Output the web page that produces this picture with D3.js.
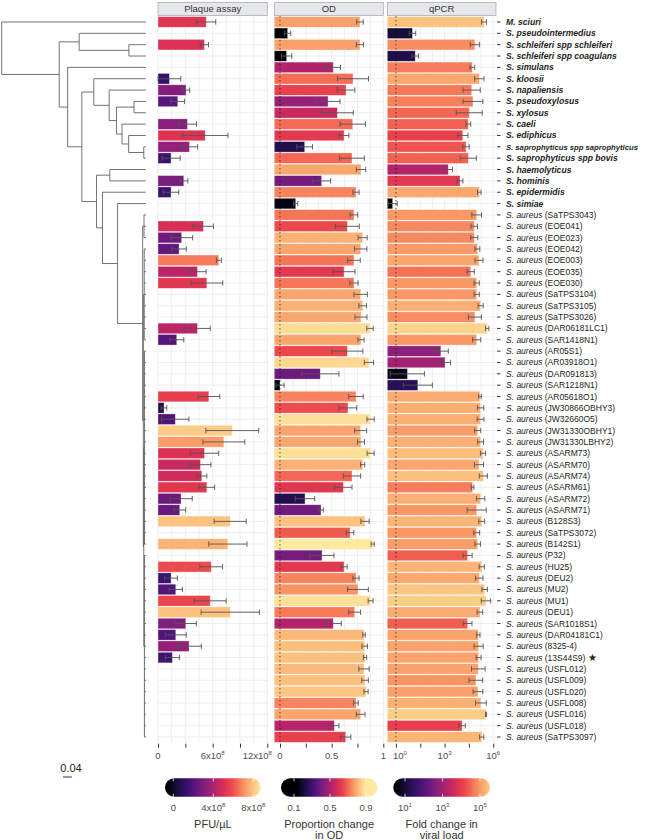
<!DOCTYPE html>
<html><head><meta charset="utf-8">
<script src="https://cdn.jsdelivr.net/npm/d3@7"></script>
<style>
body{margin:0;background:#fff}
svg{display:block}
text{font-family:"Liberation Sans",Arial,Helvetica,sans-serif}
</style></head>
<body><svg id="c" width="652" height="840"></svg>
<script>
// ---------------- DATA ----------------
const speciesNames = ["M. sciuri","S. pseudointermedius","S. schleiferi spp schleiferi","S. schleiferi spp coagulans","S. simulans","S. kloosii","S. napaliensis","S. pseudoxylosus","S. xylosus","S. caeli","S. ediphicus","S. saprophyticus spp saprophyticus","S. saprophyticus spp bovis","S. haemolyticus","S. hominis","S. epidermidis","S. simiae"];
const aureusStrains = ["SaTPS3043","EOE041","EOE023","EOE042","EOE003","EOE035","EOE030","SaTPS3104","SaTPS3105","SaTPS3026","DAR06181LC1","SAR1418N1","AR05S1","AR03918O1","DAR091813","SAR1218N1","AR05618O1","JW30866OBHY3","JW32660O5","JW31330OBHY1","JW31330LBHY2","ASARM73","ASARM70","ASARM74","ASARM61","ASARM72","ASARM71","B128S3","SaTPS3072","B142S1","P32","HU25","DEU2","MU2","MU1","DEU1","SAR1018S1","DAR04181C1","8325-4","13S44S9","USFL012","USFL009","USFL020","USFL008","USFL016","USFL018","SaTPS3097"];
const starredStrain = "13S44S9";

// Plaque assay, PFU/uL in units of 1e8 (null = not tested)
const plaqueMean = [5.29,null,5.1,null,null,1.25,3.08,2.17,null,3.23,5.18,3.45,1.43,null,2.83,1.43,null,
  null,4.99,2.6,2.31,6.68,4.33,5.36,null,null,null,4.33,2.06,null,null,null,null,
  5.58,0.66,1.9,8.15,7.23,5.1,4.66,4.81,5.36,2.53,2.39,7.93,null,7.67,null,5.84,1.43,
  1.95,5.73,7.93,3.05,1.95,3.41,1.58,null,null,null,null,null,null,null];
const plaqueSd = [1.05,null,0.45,null,null,1.25,0.4,0.75,null,1.0,2.5,0.9,1.0,null,0.45,0.85,null,
  null,1.1,1.2,0.8,0.27,0.95,1.75,null,null,null,1.4,0.77,null,null,null,null,
  1.2,0.3,1.5,2.9,2.3,1.56,1.15,0.55,0.86,1.23,0.65,1.76,null,2.1,null,1.25,0.7,
  0.73,1.75,3.2,1.15,1.15,1.35,0.77,null,null,null,null,null,null,null];

// Proportion change in OD
const odMean = [0.774,0.074,0.774,0.064,0.516,0.707,0.639,0.465,0.555,0.704,0.62,0.239,0.697,0.784,0.403,0.736,0.152,
  0.716,0.652,0.8,0.781,0.716,0.62,0.716,0.781,0.8,0.784,0.871,0.784,0.652,0.861,0.39,0.0,
  0.736,0.658,0.877,0.781,0.784,0.877,0.8,0.697,0.613,0.242,0.397,0.823,0.678,0.897,0.407,0.62,0.736,
  0.755,0.877,0.723,0.516,0.813,0.82,0.823,0.813,0.823,0.833,0.736,0.781,0.526,0.636];
const odSd = [0.032,0.03,0.035,0.05,0.07,0.15,0.085,0.116,0.155,0.123,0.047,0.076,0.12,0.045,0.087,0.03,0.02,
  0.037,0.116,0.044,0.06,0.061,0.106,0.04,0.065,0.037,0.058,0.031,0.03,0.15,0.045,0.18,0.04,
  0.07,0.085,0.035,0.058,0.034,0.034,0.02,0.084,0.084,0.094,0.022,0.04,0.037,0.015,0.116,0.03,0.03,
  0.1,0.024,0.057,0.077,0.012,0.027,0.016,0.05,0.032,0.02,0.022,0.042,0.045,0.05];

// qPCR fold change in viral load, log10
const qpcrLog = [5.43,1.02,4.87,1.19,4.71,5.14,4.67,4.75,4.52,4.46,4.12,4.32,4.46,3.23,3.95,5.14,-0.2,
  4.98,4.83,4.83,5.02,5.12,4.61,4.98,4.98,5.22,4.87,5.63,4.98,2.77,3.03,0.71,1.35,
  5.18,5.22,5.22,5.04,5.22,5.37,5.12,5.39,4.73,5.22,4.98,5.29,4.98,5.04,4.42,5.29,5.14,
  5.47,5.55,5.18,4.42,5.08,5.1,5.1,5.08,4.93,5.06,5.24,5.55,4.08,5.29];
const qpcrSd = [0.15,0.2,0.29,0.2,0.15,0.29,0.53,0.61,0.8,0.15,0.32,0.2,0.5,0.26,0.18,0.11,0.28,
  0.3,0.2,0.22,0.15,0.25,0.22,0.16,0.16,0.16,0.4,0.1,0.25,0.46,0.34,1.05,0.9,
  0.08,0.2,0.21,0.19,0.18,0.16,0.28,0.25,0.08,0.26,0.59,0.18,0.18,0.17,0.28,0.16,0.23,
  0.17,0.29,0.17,0.27,0.1,0.28,0.15,0.42,0.42,0.3,0.33,0.03,0.2,0.13];

// Phylogeny (leaf rN = row N), branch lengths in substitutions/site
const treeNewick = "(r1:0.650,((r2:0.300,(r3:0.077,r4:0.077):0.224):0.090,(r5:0.353,((r6:0.234,(r7:0.165,((r8:0.053,r9:0.053):0.079,(r10:0.107,(r11:0.077,(r12:0.009,r13:0.009):0.068):0.030):0.025):0.033):0.069):0.054,((r14:0.162,r15:0.162):0.060,(r16:0.195,(r17:0.127,((r18:0.009,r19:0.009,r20:0.009):0.006,((r21:0.008,r22:0.008,r23:0.008,r24:0.008,r25:0.008,r26:0.008,r27:0.008,r28:0.008,r29:0.008):0.004,((r30:0.007,r31:0.007,r32:0.007,r33:0.007,r34:0.007,r35:0.007,r36:0.007,r37:0.007,r38:0.007,r39:0.007,r40:0.007,r41:0.007,r42:0.007,r43:0.007,r44:0.007,r45:0.007,r46:0.007,r47:0.007):0.003,(r48:0.007,r49:0.007,r50:0.007,r51:0.007,r52:0.007,r53:0.007,r54:0.007,r55:0.007,r56:0.007,r57:0.007,r58:0.007,r59:0.007,r60:0.007,r61:0.007,r62:0.007,r63:0.007,r64:0.007):0.003):0.002):0.003):0.113):0.068):0.027):0.066):0.064):0.038):0.259);";
const treeScaleBar = 0.04;

// colour palette stops (dark -> light)
const paletteStops = ["#000004","#160d38","#35106a","#5c167e","#861f7c","#b0226d","#d92f55","#e9414c","#f46c55","#f99a66","#fcc37f","#fdeaa0"];
const paletteAt = [0,0.10,0.20,0.30,0.40,0.50,0.60,0.67,0.75,0.83,0.91,1.0];

// axis ticks / labels
const plaqueTicks = [0,3,6,9,12];
const plaqueTickLabels = {0:["0",""],6:["6x10","8"],12:["12x10","8"]};
const odTicks = [0,0.25,0.5,0.75,1];
const odTickLabels = {0:["0",""],0.5:["0.5",""],1:["1",""]};
const qpcrTicks = [0,1.5,3,4.5,6];
const qpcrTickLabels = {0:["10","0"],3:["10","3"],6:["10","6"]};
const panelTitles = ["Plaque assay","OD","qPCR"];

const legPlaqueTicks = [[0,"0",""],[4,"4x10","8"],[8,"8x10","8"]];
const legOdTicks = [[0.1,"0.1",""],[0.5,"0.5",""],[0.9,"0.9",""]];
const legQpcrTicks = [[1,"10","1"],[3,"10","3"],[5,"10","5"]];
const legTitles = [["PFU/µL"],["Proportion change","in OD"],["Fold change in","viral load"]];

// ---------------- LAYOUT ----------------
const n = speciesNames.length + aureusStrains.length;
const svg = d3.select("#c");
const y = d3.scaleBand().domain(d3.range(n)).range([16.3, 742.7]).paddingInner(0.07).paddingOuter(0.035);
const yc = i => y(i) + y.bandwidth()/2;

const pal = d3.scaleLinear().domain(paletteAt).range(paletteStops).interpolate(d3.interpolateRgb).clamp(true);
const seq = dom => { const s = d3.scaleLinear().domain(dom).range([0,1]).clamp(true); return v => pal(s(v)); };

const panels = [
  {x:d3.scaleLinear().domain([0,12]).range([158,267.3]), mean:plaqueMean, sd:plaqueSd,
   grid:d3.range(0,12.01,1.5), ticks:plaqueTicks, labels:plaqueTickLabels, dotted:null,
   color:seq([-0.64,8.8])},
  {x:d3.scaleLinear().domain([-0.055,1]).range([274.3,383.3]), mean:odMean, sd:odSd,
   grid:d3.range(0,1.001,0.125), ticks:odTicks, labels:odTickLabels, dotted:0,
   color:seq([0.13,0.895])},
  {x:d3.scaleLinear().domain([-0.53,6.17]).range([387.3,496]), mean:qpcrLog, sd:qpcrSd,
   grid:d3.range(0,6.01,0.75), ticks:qpcrTicks, labels:qpcrTickLabels, dotted:0,
   color:seq([0.48,5.92])}
];

const plotTop = 16.3, plotBottom = 742.7;

panels.forEach((p,pi)=>{
  const g = svg.append("g");
  const [x0,x1] = p.x.range();
  g.append("rect").attr("x",x0).attr("y",2.5).attr("width",x1-x0).attr("height",13)
    .attr("fill","#e6e7ec").attr("stroke","#a3a3a3").attr("stroke-width",0.7);
  g.append("text").attr("x",(x0+x1)/2).attr("y",12.4).attr("text-anchor","middle")
    .attr("font-size",9.5).attr("fill","#333").text(panelTitles[pi]);
  g.selectAll(".vg").data(p.grid).join("line")
    .attr("x1",d=>p.x(d)).attr("x2",d=>p.x(d)).attr("y1",plotTop).attr("y2",plotBottom)
    .attr("stroke","#e6e6e6").attr("stroke-width",0.7);
  g.selectAll(".hg").data(d3.range(n)).join("line")
    .attr("x1",x0).attr("x2",x1).attr("y1",d=>yc(d)).attr("y2",d=>yc(d))
    .attr("stroke","#e6e6e6").attr("stroke-width",0.7);
  const idx = d3.range(n).filter(i=>p.mean[i]!=null);
  g.selectAll(".bar").data(idx).join("rect")
    .attr("x",x0).attr("y",i=>y(i)).attr("height",y.bandwidth())
    .attr("width",i=>Math.max(0,p.x(p.mean[i])-x0))
    .attr("fill",i=>p.color(p.mean[i]))
    .attr("stroke","#ffffff").attr("stroke-opacity",0.45).attr("stroke-width",0.7);
  if(p.dotted!=null){
    g.append("line").attr("x1",p.x(p.dotted)).attr("x2",p.x(p.dotted)).attr("y1",plotTop).attr("y2",plotBottom)
      .attr("stroke","#111").attr("stroke-width",1).attr("stroke-dasharray","1,3");
  }
  const eb = g.selectAll(".eb").data(idx).join("g").attr("stroke","#555").attr("stroke-width",0.9).attr("fill","none");
  const lo = i=>Math.max(x0,p.x(p.mean[i]-p.sd[i])), hi = i=>Math.min(x1,p.x(p.mean[i]+p.sd[i]));
  eb.append("line").attr("x1",lo).attr("x2",hi).attr("y1",yc).attr("y2",yc);
  eb.append("line").attr("x1",lo).attr("x2",lo).attr("y1",i=>yc(i)-2.7).attr("y2",i=>yc(i)+2.7);
  eb.append("line").attr("x1",hi).attr("x2",hi).attr("y1",i=>yc(i)-2.7).attr("y2",i=>yc(i)+2.7);
  const ax = g.append("g").attr("transform",`translate(0,${plotBottom+1})`)
    .call(d3.axisBottom(p.x).tickValues(p.ticks).tickSize(4).tickFormat(""));
  ax.select(".domain").remove();
  ax.selectAll(".tick line").attr("stroke","#333").attr("stroke-width",1);
  const tl = g.selectAll(".tl").data(p.ticks.filter(t=>p.labels[t])).join("text")
    .attr("x",d=>p.x(d) + (pi===0&&d===12?-10:0) + (pi===2&&d===0?4:0)).attr("y",758.8)
    .attr("text-anchor","middle").attr("font-size",9.5).attr("fill","#4d4d4d");
  tl.append("tspan").text(d=>p.labels[d][0]);
  tl.append("tspan").attr("dy",-3.8).attr("font-size",6).text(d=>p.labels[d][1]);
});

// ---------------- ROW LABELS ----------------
const lab = svg.append("g");
lab.selectAll("line").data(d3.range(n)).join("line")
  .attr("x1",497).attr("x2",500.5).attr("y1",yc).attr("y2",yc).attr("stroke","#333").attr("stroke-width",1);
const lt = lab.selectAll("text").data(d3.range(n)).join("text")
  .attr("x",506).attr("y",i=>yc(i)+3).attr("font-size",8.5).attr("fill","#222");
lt.each(function(i){
  const t = d3.select(this);
  if(i < speciesNames.length){
    t.attr("font-size",8.6);
    t.append("tspan").attr("font-style","italic").attr("font-weight","bold").text(speciesNames[i]);
  } else {
    const s = aureusStrains[i-speciesNames.length];
    t.append("tspan").attr("font-style","italic").text("S. aureus");
    t.append("tspan").text(" ("+s+")");
    if(s===starredStrain) t.append("tspan").attr("font-size",9.5).text(" ★");
  }
});
// keep the longest label inside the picture by shrinking its font
lt.each(function(){
  const w = this.getBBox().width;
  const maxW = 638 - 506;
  if(w > maxW){
    const fs = +d3.select(this).attr("font-size");
    d3.select(this).attr("font-size", (fs*maxW/w).toFixed(2));
  }
});

// ---------------- TREE ----------------
function parseNewick(s){
  let i=0;
  function node(){
    const nd={children:[]};
    if(s[i]==='('){
      i++; nd.children.push(node());
      while(s[i]===','){ i++; nd.children.push(node()); }
      i++;
    }
    let name=''; while(i<s.length && !':,);'.includes(s[i])) name+=s[i++];
    nd.name=name; nd.length=0;
    if(s[i]===':'){ i++; let l=''; while(i<s.length && !',);'.includes(s[i])) l+=s[i++]; nd.length=+l; }
    if(!nd.children.length) delete nd.children;
    return nd;
  }
  return node();
}
const root = d3.hierarchy(parseNewick(treeNewick));
root.eachBefore(d=>{ d.dist = (d.parent? d.parent.dist : 0) + d.data.length; });
const maxDist = d3.max(root.leaves(), d=>d.dist);
const tx = d3.scaleLinear().domain([0,maxDist]).range([1.7,146]);
root.eachAfter(d=>{
  if(!d.children) d.yy = yc(+d.data.name.slice(1)-1);
  else d.yy = d3.mean(d.children, c=>c.yy);
});
const tg = svg.append("g").attr("stroke","#5a5a5a").attr("stroke-width",0.85).attr("fill","none");
tg.selectAll(".h").data(root.descendants().filter(d=>d.parent)).join("line")
  .attr("x1",d=>tx(d.parent.dist)).attr("x2",d=>tx(d.dist)).attr("y1",d=>d.yy).attr("y2",d=>d.yy);
tg.selectAll(".v").data(root.descendants().filter(d=>d.children)).join("line")
  .attr("x1",d=>tx(d.dist)).attr("x2",d=>tx(d.dist))
  .attr("y1",d=>d3.min(d.children,c=>c.yy)).attr("y2",d=>d3.max(d.children,c=>c.yy));
const sbx = 63;
svg.append("line").attr("x1",sbx).attr("x2",sbx + tx(treeScaleBar)-tx(0)).attr("y1",777).attr("y2",777)
  .attr("stroke","#333").attr("stroke-width",1);
svg.append("text").attr("x",71).attr("y",771.5).attr("text-anchor","middle")
  .attr("font-size",11).attr("fill","#222").text(String(treeScaleBar));

// ---------------- LEGENDS ----------------
const legends = [
  {cx:[165,260.7], pos:d3.scaleLinear().domain([0,8]).range([173.3,253.3]), color:panels[0].color, ticks:legPlaqueTicks, title:legTitles[0]},
  {cx:[281,377.3], pos:d3.scaleLinear().domain([0.1,0.9]).range([294,366]), color:panels[1].color, ticks:legOdTicks, title:legTitles[1]},
  {cx:[393.3,490], pos:d3.scaleLinear().domain([1,5]).range([405,480]), color:panels[2].color, ticks:legQpcrTicks, title:legTitles[2]}
];
const defs = svg.append("defs");
legends.forEach((L,li)=>{
  const [a,b] = L.cx, top=778.3, h=18.5;
  const gid = "lg"+li;
  const grad = defs.append("linearGradient").attr("id",gid).attr("x1","0%").attr("x2","100%");
  grad.selectAll("stop").data(d3.range(0,1.0001,0.04)).join("stop")
    .attr("offset",s=>(s*100)+"%")
    .attr("stop-color",s=>L.color(L.pos.invert(a+s*(b-a))));
  const g = svg.append("g");
  g.append("rect").attr("x",a).attr("y",top).attr("width",b-a).attr("height",h).attr("rx",h/2).attr("ry",h/2)
    .attr("fill",`url(#${gid})`);
  g.selectAll(".nt").data(L.ticks).join("g").each(function(t){
    const xx=L.pos(t[0]);
    d3.select(this).append("line").attr("x1",xx).attr("x2",xx).attr("y1",top).attr("y2",top+3).attr("stroke","#fff").attr("stroke-width",0.8);
    d3.select(this).append("line").attr("x1",xx).attr("x2",xx).attr("y1",top+h-3).attr("y2",top+h).attr("stroke","#fff").attr("stroke-width",0.8);
  });
  const tt = g.selectAll(".lt").data(L.ticks).join("text").attr("x",t=>L.pos(t[0])).attr("y",810.5)
    .attr("text-anchor","middle").attr("font-size",9.5).attr("fill","#4d4d4d");
  tt.append("tspan").text(t=>t[1]);
  tt.append("tspan").attr("dy",-3.8).attr("font-size",6).text(t=>t[2]);
  g.selectAll(".ttl").data(L.title).join("text").attr("x",(a+b)/2).attr("y",(d,k)=>828+k*11)
    .attr("text-anchor","middle").attr("font-size",11).attr("fill","#333").text(d=>d);
});
</script>
</body></html>
